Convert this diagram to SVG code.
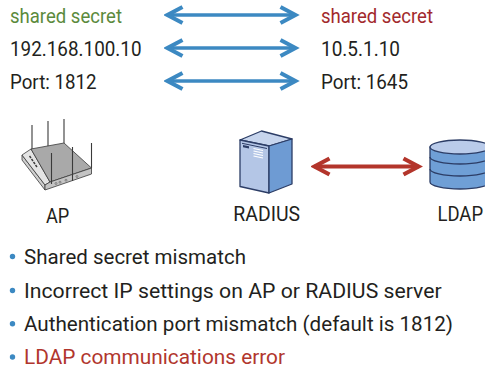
<svg xmlns="http://www.w3.org/2000/svg" width="485" height="368" viewBox="0 0 485 368">
<defs>
<style>
text{font-family:Roboto,"Liberation Sans",sans-serif;fill:#231f20}
.t20{font-size:20px}
.t21{font-size:21px}
.green{fill:#5b8a3c}
.red{fill:#a2292c}
.red2{fill:#b1362d}
.blue{stroke:#3c89c2;stroke-width:3.6;fill:none}
.redl{stroke:#b3352b;stroke-width:3.8;fill:none}
.dev{stroke:#2c3d66;stroke-width:1.3;stroke-linejoin:round}
.ap{stroke:#3a3a3a;stroke-width:0.8;stroke-linejoin:round}
.ant{stroke:#3a3a3a;stroke-width:1.1}
.dot{fill:#3c89c2}
</style>
<marker id="hb" markerUnits="userSpaceOnUse" viewBox="-22 -12 26 24" refX="0" refY="0" markerWidth="26" markerHeight="24" orient="auto-start-reverse">
<path d="M-15,-8 L0,0 L-15,8" fill="none" stroke="#3c89c2" stroke-width="4"/>
</marker>
<marker id="hr" markerUnits="userSpaceOnUse" viewBox="-22 -12 26 24" refX="0" refY="0" markerWidth="26" markerHeight="24" orient="auto-start-reverse">
<path d="M-15,-8 L0,0 L-15,8" fill="none" stroke="#b3352b" stroke-width="4.2"/>
</marker>
</defs>

<g id="left-settings">
<text class="t20 green" x="10" y="22.5" textLength="112" lengthAdjust="spacingAndGlyphs">shared secret</text>
<text class="t20" x="10" y="55.5" textLength="131.5" lengthAdjust="spacingAndGlyphs">192.168.100.10</text>
<text class="t20" x="10" y="88.5" textLength="86.5" lengthAdjust="spacingAndGlyphs">Port: 1812</text>
</g>

<g id="right-settings">
<text class="t20 red" x="321" y="22.5" textLength="112" lengthAdjust="spacingAndGlyphs">shared secret</text>
<text class="t20" x="321" y="55.5" textLength="79" lengthAdjust="spacingAndGlyphs">10.5.1.10</text>
<text class="t20" x="321" y="88.5" textLength="87" lengthAdjust="spacingAndGlyphs">Port: 1645</text>
</g>

<g id="connectors">
<line class="blue" x1="167.5" y1="15" x2="295.5" y2="15" marker-start="url(#hb)" marker-end="url(#hb)"/>
<line class="blue" x1="167.5" y1="48" x2="295.5" y2="48" marker-start="url(#hb)" marker-end="url(#hb)"/>
<line class="blue" x1="167.5" y1="81" x2="295.5" y2="81" marker-start="url(#hb)" marker-end="url(#hb)"/>
<line class="redl" x1="314.5" y1="166.5" x2="418.5" y2="166.5" marker-start="url(#hr)" marker-end="url(#hr)"/>
</g>

<g id="AP">
<line class="ant" x1="32" y1="125" x2="32" y2="149"/>
<line class="ant" x1="48" y1="121" x2="48" y2="146"/>
<line class="ant" x1="64" y1="119" x2="64" y2="143"/>
<line class="ant" x1="91.5" y1="143" x2="91.5" y2="168"/>
<polygon class="ap" points="22,155 45,185 45,190 22,160" fill="#cfcfcf"/>
<polygon class="ap" points="22,155 31,149 50,182 45,185" fill="#e4e4e4"/>
<polygon class="ap" points="31,149 64,143 91.5,168 50,182" fill="#a9a9a9"/>
<polygon class="ap" points="45,185 50,182 91.5,168 91.5,174 45,190" fill="#c4c4c4"/>
<line class="ant" x1="51.5" y1="153" x2="51.5" y2="184"/>
<line class="ant" x1="72.5" y1="147" x2="72.5" y2="181"/>
<g stroke="#3a3a3a" stroke-width="1.4">
<line x1="29.5" y1="156" x2="31" y2="158"/>
<line x1="31.5" y1="159" x2="33" y2="161"/>
<line x1="33.5" y1="162" x2="35" y2="164"/>
<line x1="35.5" y1="165" x2="37" y2="167"/>
</g>
<g fill="none" stroke="#555" stroke-width="0.6">
<circle cx="56" cy="183.5" r="1"/>
<circle cx="60" cy="182.2" r="1"/>
<circle cx="66" cy="180.2" r="1"/>
<circle cx="77" cy="176.5" r="1"/>
</g>
<text class="t21" x="46" y="222.5" textLength="23.3" lengthAdjust="spacingAndGlyphs">AP</text>
</g>

<g id="RADIUS">
<polygon class="dev" points="240,140 261.5,131 292,139 269,146" fill="#c7d5ed"/>
<polygon class="dev" points="240,140 269,146 269,193 240,186.5" fill="#b4c6e6"/>
<polygon class="dev" points="269,146 292,139 292,184 269,193" fill="#6e9bd3"/>
<line x1="242" y1="143.3" x2="267" y2="148.5" stroke="#2c3d66" stroke-width="1"/>
<polygon points="243,145 249,146.3 249,148.6 243,147.3" fill="#2c3d66"/>
<g stroke="#ffffff" stroke-width="1.2">
<line x1="253.5" y1="148.5" x2="263" y2="150.5"/>
<line x1="253.5" y1="151" x2="263" y2="153"/>
<line x1="253.5" y1="153.5" x2="263" y2="155.5"/>
<line x1="253.5" y1="156" x2="263" y2="158"/>
</g>
<text class="t21" x="233.3" y="221" textLength="66.7" lengthAdjust="spacingAndGlyphs">RADIUS</text>
</g>

<g id="LDAP">
<path class="dev" d="M430,147 L430,182 A30,7 0 0 0 490,182 L490,147 Z" fill="#6f9fd6"/>
<path class="dev" d="M430,157 A30,7 0 0 0 490,157 M430,169 A30,7 0 0 0 490,169" fill="none"/>
<ellipse class="dev" cx="460" cy="147" rx="30" ry="7" fill="#b9cbea"/>
<text class="t21" transform="translate(437.5,221) scale(0.88,1)" x="0" y="0">LDAP</text>
</g>

<g id="causes">
<circle class="dot" cx="12.5" cy="256.5" r="2.7"/>
<text class="t21" x="24" y="263.8" textLength="222" lengthAdjust="spacingAndGlyphs">Shared secret mismatch</text>
<circle class="dot" cx="12.5" cy="290.5" r="2.7"/>
<text class="t21" x="24" y="297.6" textLength="417.7" lengthAdjust="spacingAndGlyphs">Incorrect IP settings on AP or RADIUS server</text>
<circle class="dot" cx="12.5" cy="323.8" r="2.7"/>
<text class="t21" x="24" y="331" textLength="429" lengthAdjust="spacingAndGlyphs">Authentication port mismatch (default is 1812)</text>
<circle class="dot" cx="12.5" cy="357" r="2.7"/>
<text class="t21 red2" x="24" y="364" textLength="261" lengthAdjust="spacingAndGlyphs">LDAP communications error</text>
</g>
</svg>
